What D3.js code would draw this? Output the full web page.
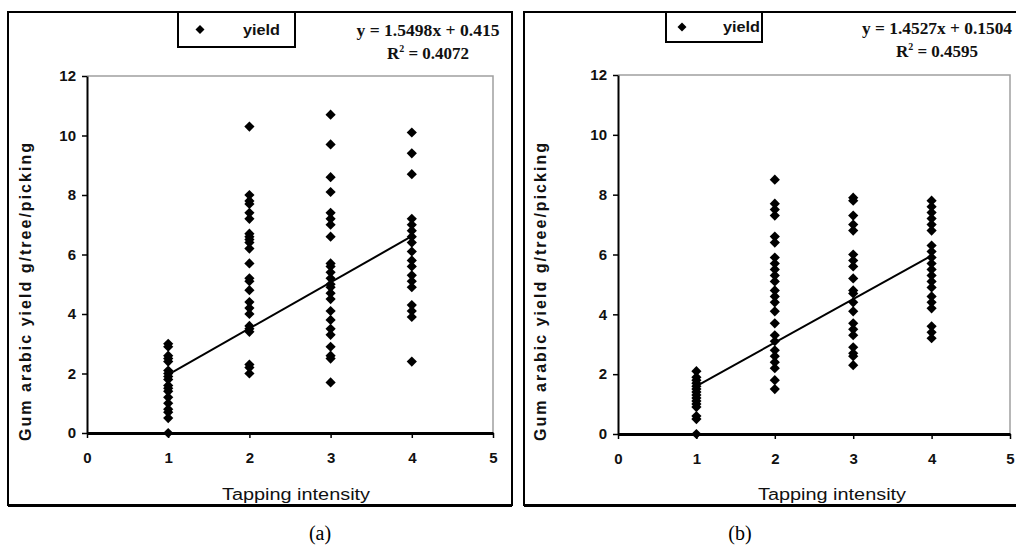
<!DOCTYPE html>
<html><head><meta charset="utf-8">
<script src="https://cdn.jsdelivr.net/npm/d3@7"></script>
<style>body{margin:0;background:#fff}svg{display:block}</style>
</head><body>
<svg id="c" width="1016" height="545"></svg>
<script>
// ---- data ----
const xTickValues = [0, 1, 2, 3, 4, 5];
const yTickValues = [0, 2, 4, 6, 8, 10, 12];
const intensities = [1, 2, 3, 4];
const xLabel = "Tapping intensity";
const yLabel = "Gum arabic yield g/tree/picking";
const legendLabel = "yield";

// panel (a)
const yieldA1 = [3.0, 2.9, 2.6, 2.5, 2.4, 2.1, 2.0, 1.9, 1.8, 1.6, 1.5, 1.4, 1.2, 1.0, 0.8, 0.7, 0.5, 0.0];
const yieldA2 = [10.3, 8.0, 7.8, 7.7, 7.4, 7.2, 6.7, 6.6, 6.5, 6.4, 6.2, 5.7, 5.2, 5.1, 4.8, 4.4, 4.2, 4.0, 3.6, 3.5, 3.4, 2.3, 2.2, 2.0];
const yieldA3 = [10.7, 9.7, 8.6, 8.1, 7.4, 7.2, 7.0, 6.6, 5.7, 5.6, 5.4, 5.2, 5.0, 4.9, 4.7, 4.5, 4.1, 3.8, 3.5, 3.3, 2.9, 2.6, 2.5, 1.7];
const yieldA4 = [10.1, 9.4, 8.7, 7.2, 7.0, 6.8, 6.6, 6.4, 6.1, 5.8, 5.6, 5.3, 5.1, 4.9, 4.3, 4.1, 3.9, 2.4];
const slopeA = 1.5498, interceptA = 0.415;
const eqA = "y = 1.5498x + 0.415", r2A = "0.4072";

// panel (b)
const yieldB1 = [2.1, 1.9, 1.8, 1.7, 1.6, 1.5, 1.4, 1.3, 1.2, 1.1, 1.0, 0.9, 0.6, 0.5, 0.0];
const yieldB2 = [8.5, 7.7, 7.5, 7.3, 6.6, 6.4, 5.9, 5.7, 5.5, 5.3, 5.1, 4.8, 4.6, 4.4, 4.1, 3.7, 3.3, 3.1, 2.8, 2.6, 2.4, 2.2, 1.8, 1.5];
const yieldB3 = [7.9, 7.8, 7.3, 7.0, 6.8, 6.0, 5.8, 5.6, 5.2, 4.8, 4.7, 4.4, 4.1, 3.7, 3.5, 3.3, 2.9, 2.7, 2.6, 2.3];
const yieldB4 = [7.8, 7.6, 7.4, 7.2, 7.0, 6.8, 6.3, 6.1, 5.9, 5.7, 5.5, 5.3, 5.1, 4.9, 4.6, 4.4, 4.2, 3.6, 3.4, 3.2];
const slopeB = 1.4527, interceptB = 0.1504;
const eqB = "y = 1.4527x + 0.1504", r2B = "0.4595";

const captions = ["(a)", "(b)"];

// ---- drawing ----
const svg = d3.select("#c");
const sans = "Liberation Sans, Arial, sans-serif";
const serif = "Liberation Serif, Times New Roman, serif";

function drawPanel(p) {
  const g = svg.append("g");
  // outer frame
  g.append("rect").attr("x", p.box[0]).attr("y", p.box[1])
    .attr("width", p.box[2] - p.box[0]).attr("height", p.box[3] - p.box[1])
    .attr("fill", "none").attr("stroke", "#000").attr("stroke-width", 2);
  g.append("line").attr("x1", p.box[0]).attr("x2", p.box[2])
    .attr("y1", p.box[3] + 1).attr("y2", p.box[3] + 1)
    .attr("stroke", "#000").attr("stroke-width", 2);

  const x = d3.scaleLinear().domain([0, 5]).range([p.plot[0], p.plot[2]]);
  const y = d3.scaleLinear().domain([0, 12]).range([p.plot[3], p.plot[1]]);

  // plot border (top/right, gray)
  g.append("path")
    .attr("d", `M${x(0)},${y(12)}H${x(5)}V${y(0)}`)
    .attr("fill", "none").attr("stroke", "#a0a0a0").attr("stroke-width", 1.5);

  // y axis
  const ya = g.append("g").attr("transform", `translate(${x(0)},0)`)
    .call(d3.axisLeft(y).tickValues(yTickValues).tickFormat(d3.format("d"))
      .tickSize(5).tickPadding(6).tickSizeOuter(0));
  ya.select(".domain").attr("stroke-width", 2);
  ya.selectAll(".tick line").attr("stroke-width", 1.5);
  ya.selectAll("text").attr("font-family", sans)
    .attr("font-weight", "bold").attr("font-size", 15).attr("fill", "#111");

  // x axis
  const xa = g.append("g").attr("transform", `translate(0,${y(0)})`)
    .call(d3.axisBottom(x).tickValues(xTickValues).tickFormat(d3.format("d"))
      .tickSize(5).tickPadding(14).tickSizeOuter(0));
  xa.select(".domain").attr("stroke-width", 3);
  xa.selectAll(".tick line").attr("stroke-width", 1.5);
  xa.selectAll("text").attr("font-family", sans)
    .attr("font-weight", "bold").attr("font-size", 15).attr("fill", "#111");

  // points
  const pts = [];
  p.series.forEach((vals, i) => vals.forEach(v => pts.push({ x: intensities[i], y: v })));
  g.append("g").selectAll("path").data(pts).join("path")
    .attr("d", d3.symbol().type(d3.symbolSquare).size(52))
    .attr("transform", d => `translate(${x(d.x)},${y(d.y)}) rotate(45)`)
    .attr("fill", "#000");

  // trend line
  const x0 = intensities[0], x1 = intensities[intensities.length - 1];
  g.append("line")
    .attr("x1", x(x0)).attr("y1", y(p.slope * x0 + p.intercept))
    .attr("x2", x(x1)).attr("y2", y(p.slope * x1 + p.intercept))
    .attr("stroke", "#000").attr("stroke-width", 2);

  // axis titles
  g.append("text").attr("x", p.xTitle[0]).attr("y", p.xTitle[1])
    .attr("text-anchor", "middle").attr("font-family", sans)
    .attr("font-size", 16).attr("fill", "#111")
    .attr("textLength", 148).attr("lengthAdjust", "spacingAndGlyphs").text(xLabel);
  g.append("text")
    .attr("transform", `translate(${p.yTitle[0]},${p.yTitle[1]}) rotate(-90)`)
    .attr("text-anchor", "middle").attr("font-family", sans)
    .attr("font-weight", "bold").attr("font-size", 16).attr("fill", "#111")
    .attr("textLength", 298).attr("lengthAdjust", "spacing")
    .text(yLabel);

  // legend
  const L = p.legend;
  g.append("rect").attr("x", L[0]).attr("y", L[1]).attr("width", L[2] - L[0]).attr("height", L[3] - L[1])
    .attr("fill", "#fff").attr("stroke", "#000").attr("stroke-width", 2);
  g.append("path").attr("d", d3.symbol().type(d3.symbolSquare).size(40))
    .attr("transform", `translate(${L[0] + p.legMarker},${(L[1] + L[3]) / 2}) rotate(45)`).attr("fill", "#000");
  g.append("text").attr("x", L[0] + p.legText).attr("y", (L[1] + L[3]) / 2 + 5)
    .attr("font-family", sans)
    .attr("font-weight", "bold").attr("font-size", 15).attr("fill", "#111")
    .attr("textLength", 37).attr("lengthAdjust", "spacingAndGlyphs").text(legendLabel);

  // equation
  g.append("text").attr("x", p.eqPos[0]).attr("y", p.eqPos[1]).attr("text-anchor", "middle")
    .attr("font-family", serif).attr("font-weight", "bold")
    .attr("font-size", 17).attr("fill", "#111")
    .attr("textLength", p.eqLen).attr("lengthAdjust", "spacingAndGlyphs").text(p.eq);
  const r = g.append("text").attr("x", p.eqPos[0]).attr("y", p.eqPos[1] + 23).attr("text-anchor", "middle")
    .attr("font-family", serif).attr("font-weight", "bold")
    .attr("font-size", 17).attr("fill", "#111");
  r.append("tspan").text("R");
  r.append("tspan").attr("dy", -7).attr("font-size", 10).text("2");
  r.append("tspan").attr("dy", 7).text(" = " + p.r2);

  // caption
  svg.append("text").attr("x", p.caption[0]).attr("y", p.caption[1]).attr("text-anchor", "middle")
    .attr("font-family", serif).attr("font-size", 20)
    .attr("fill", "#000").text(p.captionText);
}

drawPanel({
  box: [8, 12, 512, 505], plot: [87, 76, 493, 433],
  series: [yieldA1, yieldA2, yieldA3, yieldA4], slope: slopeA, intercept: interceptA,
  xTitle: [296, 500], yTitle: [31, 292],
  legend: [178, 12, 295, 47], legMarker: 22, legText: 65,
  eq: eqA, eqLen: 143, r2: r2A, eqPos: [428, 36],
  caption: [320, 540], captionText: captions[0]
});
drawPanel({
  box: [524, 12, 1024, 505], plot: [618, 75, 1010, 434],
  series: [yieldB1, yieldB2, yieldB3, yieldB4], slope: slopeB, intercept: interceptB,
  xTitle: [832, 500], yTitle: [546, 292],
  legend: [666, 12, 762, 42], legMarker: 16, legText: 57,
  eq: eqB, eqLen: 150, r2: r2B, eqPos: [937, 34],
  caption: [740, 540], captionText: captions[1]
});
</script>
</body></html>
